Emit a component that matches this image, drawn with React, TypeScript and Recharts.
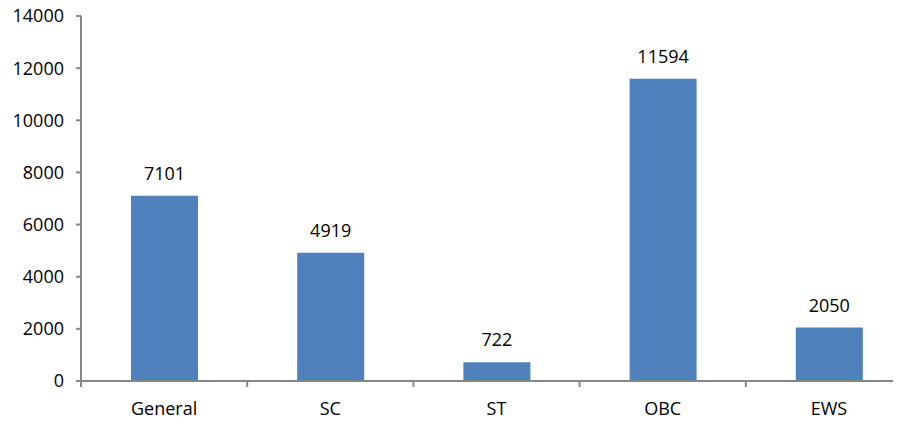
import { BarChart, Bar, XAxis, YAxis, LabelList } from "recharts";

const categories = ["General", "SC", "ST", "OBC", "EWS"];
const counts = [7101, 4919, 722, 11594, 2050];
const yTicks = [0, 2000, 4000, 6000, 8000, 10000, 12000, 14000];

const data = categories.map((name, i) => ({ name, count: counts[i] }));

const CHART_W = 912;
const CHART_H = 426;
const LEFT = 81;
const BAND = (CHART_W - LEFT) / categories.length;
const AXIS = "#868686";
const FONT = "'Open Sans', sans-serif";

function CatTick(props: any) {
  const { x, y, payload, index } = props;
  const axisY = y - 21;
  return (
    <g>
      <line x1={x - BAND / 2} y1={axisY} x2={x - BAND / 2} y2={axisY + 6} stroke={AXIS} strokeWidth={2} />
      {index === categories.length - 1 && (
        <line x1={x + BAND / 2} y1={axisY} x2={x + BAND / 2} y2={axisY + 6} stroke={AXIS} strokeWidth={2} />
      )}
      <text x={x} y={y} dy="0.71em" textAnchor="middle" fill="#000" fontSize={18} fontFamily={FONT}>
        {payload.value}
      </text>
    </g>
  );
}

export default function App() {
  return (
    <div style={{ width: 901, height: 426, overflow: "hidden", margin: "-8px 0 0 -8px" }}>
      <BarChart
        width={CHART_W}
        height={CHART_H}
        data={data}
        margin={{ top: 16, right: 0, bottom: 0, left: 0 }}
        barCategoryGap="20%"
      >
        <XAxis
          dataKey="name"
          height={45}
          axisLine={{ stroke: AXIS, strokeWidth: 2 }}
          tickLine={false}
          tickMargin={21}
          tickSize={0}
          tick={<CatTick />}
          interval={0}
        />
        <YAxis
          width={LEFT}
          domain={[0, 14000]}
          ticks={yTicks}
          interval={0}
          axisLine={{ stroke: AXIS, strokeWidth: 2 }}
          tickLine={{ stroke: AXIS, strokeWidth: 2 }}
          tickSize={5}
          tickMargin={12}
          tick={{ fill: "#000", fontSize: 18, fontFamily: FONT }}
        />
        <Bar dataKey="count" fill="#4F81BD" barSize={67} isAnimationActive={false}>
          <LabelList
            dataKey="count"
            position="top"
            offset={16}
            fill="#000"
            fontSize={18}
            fontFamily={FONT}
          />
        </Bar>
      </BarChart>
    </div>
  );
}
